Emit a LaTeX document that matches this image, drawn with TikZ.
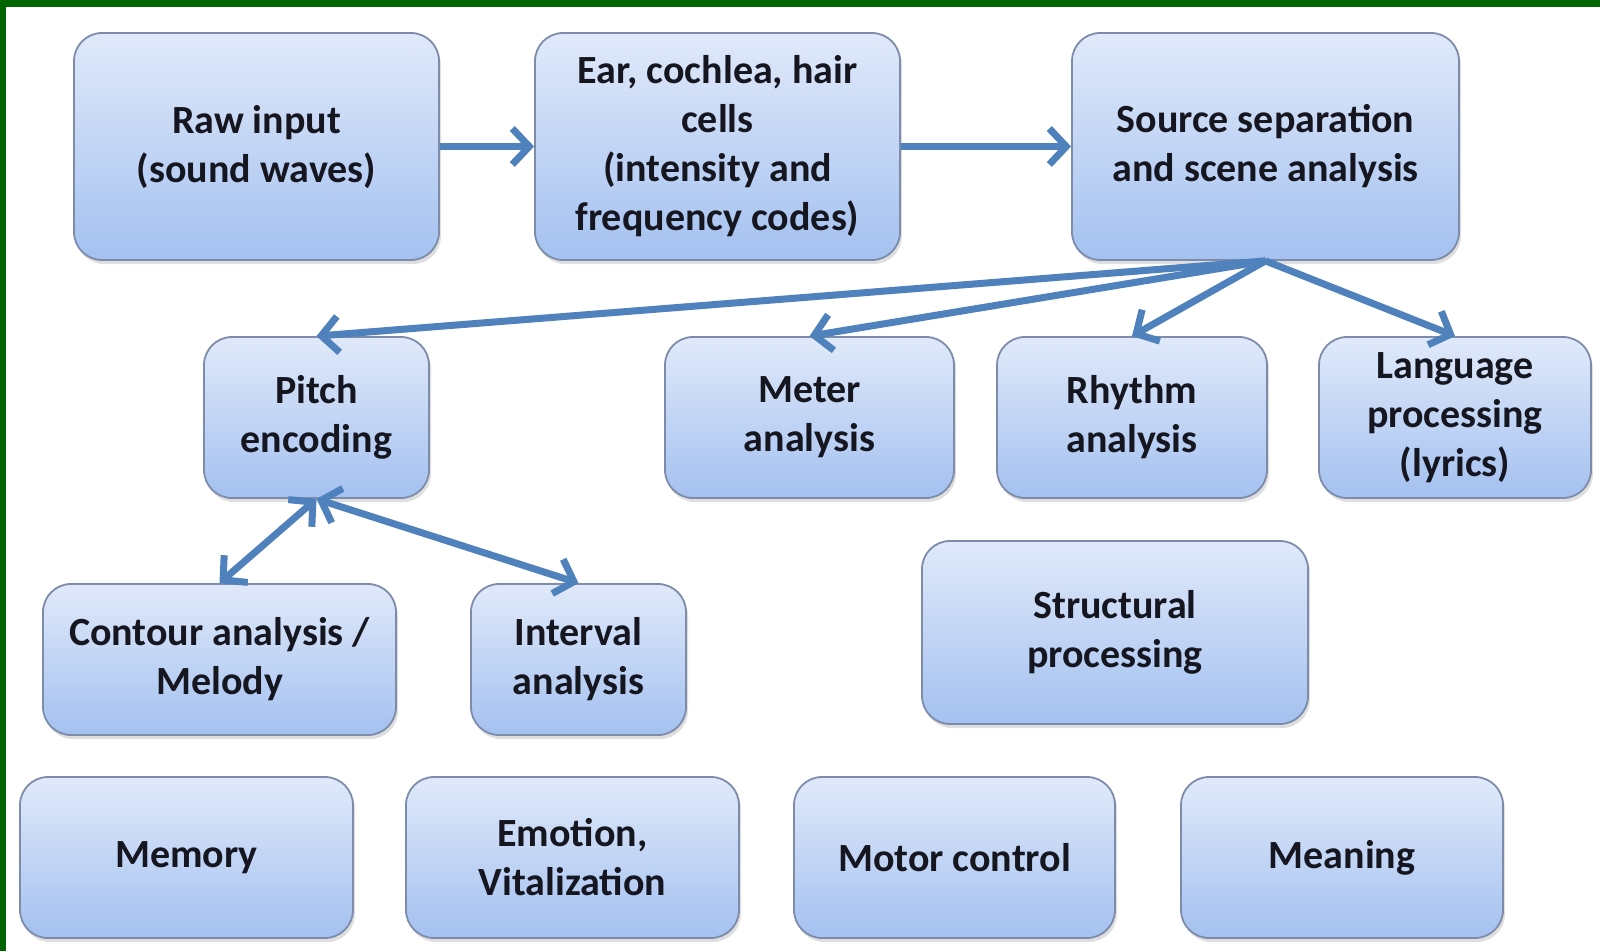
\documentclass[tikz,border=0pt]{standalone}
\usepackage{fontspec}
\setmainfont{Carlito}
\usetikzlibrary{arrows.meta,shadows}
\definecolor{arrowblue}{RGB}{79,129,189}
\definecolor{boxtop}{RGB}{224,233,250}
\definecolor{boxbot}{RGB}{164,193,240}
\definecolor{boxline}{RGB}{125,140,170}
\definecolor{txt}{RGB}{22,22,32}
\definecolor{framegreen}{RGB}{0,100,0}
\tikzset{
  box/.style={draw=boxline, line width=1.8pt, rounded corners=28pt,
    top color=boxtop, bottom color=boxbot, align=center, text=txt,
    font=\fontsize{40}{49}\selectfont\bfseries, inner sep=0pt,
    drop shadow={opacity=0.25, shadow xshift=2pt, shadow yshift=-4pt}},
  conn/.style={draw=arrowblue, line width=7pt, -{Straight Barb[length=17pt,width=36pt]}},
  biconn/.style={draw=arrowblue, line width=7pt, {Straight Barb[length=17pt,width=36pt]}-{Straight Barb[length=17pt,width=36pt]}}
}
\begin{document}
\begin{tikzpicture}[x=1pt,y=-1pt]
\useasboundingbox (0,0) rectangle (1600,951);
\fill[white] (0,0) rectangle (1600,951);
\fill[framegreen] (0,0) rectangle (1600,7);
\fill[framegreen] (0,0) rectangle (6,951);

\node[box, minimum width=365pt, minimum height=227pt] (raw) at (256.5,146.5) {Raw input\\(sound waves)};
\node[box, minimum width=365pt, minimum height=227pt] (ear) at (717.5,146.5) {Ear, cochlea, hair\\cells\\(intensity and\\frequency codes)};
\node[box, minimum width=387pt, minimum height=227pt] (src) at (1265.5,146.5) {Source separation\\and scene analysis};

\node[box, minimum width=225pt, minimum height=161pt] (pitch) at (316.5,417.5) {Pitch\\encoding};
\node[box, minimum width=289pt, minimum height=161pt] (meter) at (809.5,417.5) {Meter\\analysis};
\node[box, minimum width=270pt, minimum height=161pt] (rhythm) at (1132,417.5) {Rhythm\\analysis};
\node[box, minimum width=272pt, minimum height=161pt] (lang) at (1455,417.5) {Language\\processing\\(lyrics)};

\node[box, minimum width=353pt, minimum height=151pt] (contour) at (219.5,659.5) {Contour analysis /\\Melody};
\node[box, minimum width=215pt, minimum height=151pt] (interval) at (578.5,659.5) {Interval\\analysis};
\node[box, minimum width=386pt, minimum height=183pt] (struct) at (1115,632.5) {Structural\\processing};

\node[box, minimum width=333pt, minimum height=161pt] (memory) at (186.5,857.5) {Memory};
\node[box, minimum width=333pt, minimum height=161pt] (emotion) at (572.5,857.5) {Emotion,\\Vitalization};
\node[box, minimum width=321pt, minimum height=161pt] (motor) at (954.5,857.5) {Motor control};
\node[box, minimum width=322pt, minimum height=161pt] (meaning) at (1342,857.5) {Meaning};

\draw[conn] (raw.east) -- (ear.west);
\draw[conn] (ear.east) -- (src.west);
\draw[conn] (src.south) -- (pitch.north);
\draw[conn] (src.south) -- (meter.north);
\draw[conn] (src.south) -- (rhythm.north);
\draw[conn] (src.south) -- (lang.north);
\draw[biconn] (pitch.south) -- (contour.north);
\draw[biconn] (pitch.south) -- (interval.north);
\end{tikzpicture}
\end{document}
